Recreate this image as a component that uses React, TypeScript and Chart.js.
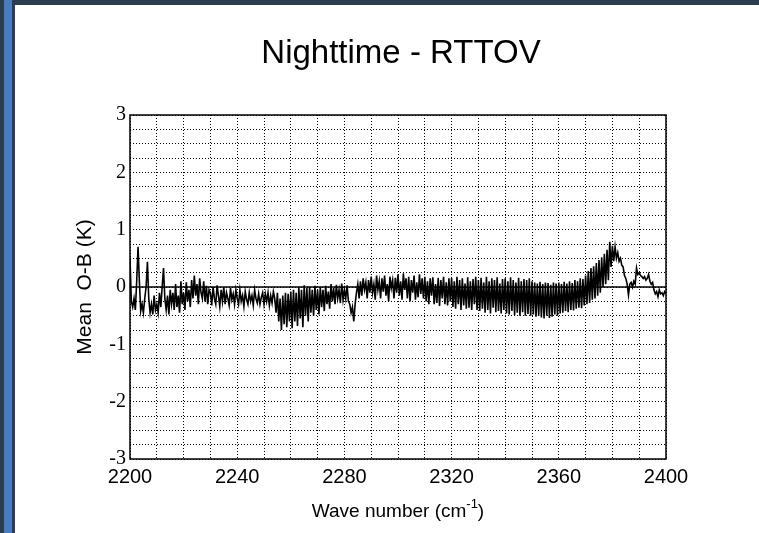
import React, { useEffect, useRef } from "react";
import { Chart, registerables } from "chart.js";

Chart.register(...registerables);

// ---- text ----
const TITLE = "Nighttime - RTTOV";
const X_TITLE_MAIN = "Wave number (cm";
const X_TITLE_SUP = "-1";
const X_TITLE_END = ")";
const Y_TITLE = "Mean  O-B (K)";

// ---- axes ----
const X_MIN = 2200;
const X_MAX = 2400;
const Y_MIN = -3;
const Y_MAX = 3;
const X_TICK_LABELS = [2200, 2240, 2280, 2320, 2360, 2400];
const Y_TICK_LABELS = [-3, -2, -1, 0, 1, 2, 3];

// ---- data: channel grid (cm^-1) ----
const WAVE_START = 2200;
const WAVE_STEP = 0.5;

// Mean O-B (K), 2200.0 - 2249.5
const OMB_2200 = [
  0.5, -0.25, -0.35, -0.2, -0.4, 0.1, 0.7, 0.1, -0.42, -0.3, -0.45, -0.2, 0.0, 0.44, -0.2, -0.45, -0.3, -0.48, -0.15, -0.4,
  -0.3, -0.45, -0.1, -0.35, 0.0, 0.33, -0.2, -0.4, -0.15, -0.48, -0.05, -0.3, -0.1, -0.4, 0.05, -0.35, -0.15, -0.45, 0.1, -0.3,
  -0.1, -0.4, 0.08, -0.25, -0.05, -0.35, 0.12, -0.2, 0.2, -0.15, 0.05, -0.3, 0.15, -0.1, -0.2, 0.1, -0.25, 0.02, -0.3, -0.05,
  -0.1, -0.32, 0.0, -0.2, -0.3, 0.03, -0.15, -0.34, -0.05, -0.25, 0.0, -0.3, -0.1, -0.2, -0.32, -0.02, -0.22, -0.12, -0.3, -0.05,
  -0.2, -0.3, -0.05, -0.25, -0.15, -0.34, -0.08, -0.22, -0.3, -0.1, -0.25, -0.15, -0.32, -0.05, -0.2, -0.28, -0.12, -0.3, -0.18, -0.1,
];
// 2250.0 - 2299.5
const OMB_2250 = [
  -0.3, -0.12, -0.25, -0.1, -0.32, -0.15, -0.28, -0.08, -0.2, -0.45, -0.1, -0.6, -0.2, -0.75, -0.15, -0.65, -0.1, -0.7, -0.12, -0.6,
  -0.08, -0.72, -0.05, -0.6, -0.1, -0.68, 0.0, -0.55, -0.05, -0.7, 0.03, -0.5, -0.02, -0.6, 0.0, -0.45, -0.05, -0.5, 0.02, -0.4,
  -0.05, -0.48, 0.0, -0.35, -0.05, -0.42, 0.02, -0.3, -0.08, -0.38, 0.05, -0.25, -0.02, -0.3, 0.04, -0.2, -0.05, -0.28, 0.06, -0.22,
  -0.05, -0.2, 0.03, -0.25, -0.3, -0.45, -0.35, -0.6, -0.3, -0.1, 0.05, -0.2, 0.1, -0.15, 0.15, -0.05, 0.08, -0.2, 0.12, -0.1,
  0.18, -0.1, 0.05, -0.22, 0.2, -0.05, 0.1, -0.2, 0.15, -0.08, 0.2, -0.15, 0.05, -0.25, 0.18, -0.02, 0.12, -0.2, 0.16, -0.1,
];
// 2300.0 - 2349.5
const OMB_2300 = [
  0.22, -0.15, 0.1, -0.22, 0.24, -0.05, 0.15, -0.2, 0.18, -0.25, 0.12, -0.1, 0.2, -0.22, 0.08, -0.18, 0.22, -0.12, 0.15, -0.2,
  0.18, -0.25, 0.1, -0.3, 0.15, -0.15, 0.17, -0.3, 0.05, -0.28, 0.16, -0.33, 0.12, -0.2, 0.18, -0.3, 0.08, -0.32, 0.15, -0.25,
  0.16, -0.35, 0.1, -0.38, 0.18, -0.3, 0.12, -0.4, 0.15, -0.32, 0.06, -0.38, 0.17, -0.36, 0.1, -0.4, 0.14, -0.3, 0.18, -0.4,
  0.12, -0.42, 0.16, -0.38, 0.08, -0.45, 0.18, -0.4, 0.1, -0.46, 0.15, -0.36, 0.12, -0.44, 0.17, -0.42, 0.06, -0.46, 0.14, -0.4,
  0.15, -0.46, 0.1, -0.48, 0.17, -0.42, 0.12, -0.49, 0.08, -0.45, 0.16, -0.5, 0.1, -0.44, 0.14, -0.5, 0.12, -0.47, 0.15, -0.5,
];
// 2350.0 - 2400.0
const OMB_2350 = [
  0.1, -0.48, 0.08, -0.52, 0.06, -0.5, 0.09, -0.53, 0.05, -0.55, 0.08, -0.5, 0.07, -0.54, 0.04, -0.52, 0.08, -0.48, 0.06, -0.5,
  0.08, -0.46, 0.05, -0.45, 0.09, -0.42, 0.06, -0.44, 0.1, -0.4, 0.07, -0.41, 0.12, -0.38, 0.1, -0.36, 0.15, -0.37, 0.14, -0.32,
  0.2, -0.3, 0.28, -0.28, 0.33, -0.22, 0.36, -0.2, 0.42, -0.15, 0.47, -0.1, 0.52, 0.0, 0.58, 0.05, 0.65, 0.12, 0.79, 0.35,
  0.72, 0.45, 0.7, 0.5, 0.6, 0.45, 0.5, 0.38, 0.35, 0.2, 0.15, 0.05, -0.14, 0.05, 0.08, 0.0, 0.1, 0.05, 0.33, 0.22,
  0.25, 0.2, 0.18, 0.15, 0.18, 0.12, 0.15, 0.22, 0.1, 0.05, 0.08, -0.05, -0.12, -0.08, -0.17, -0.05, -0.12, -0.1, -0.15, -0.08,
  -0.12,
];

const ZERO_LINE = [0, 0];

const SANS = '"Liberation Sans", Arial, Helvetica, sans-serif';
const SERIF = '"Liberation Serif", "Times New Roman", serif';

export default function App() {
  const canvasRef = useRef<HTMLCanvasElement | null>(null);

  useEffect(() => {
    document.body.style.margin = "0";
    const canvas = canvasRef.current;
    if (!canvas) return;

    const values = [...OMB_2200, ...OMB_2250, ...OMB_2300, ...OMB_2350];
    const points = values.map((y, i) => ({ x: WAVE_START + i * WAVE_STEP, y }));
    const zero = [
      { x: X_MIN, y: ZERO_LINE[0] },
      { x: X_MAX, y: ZERO_LINE[1] },
    ];

    const decor = {
      id: "decor",
      afterDraw(chart: any) {
        const ctx = chart.ctx as CanvasRenderingContext2D;
        const a = chart.chartArea;
        const cx = (a.left + a.right) / 2;
        ctx.save();
        // frame
        ctx.setLineDash([]);
        ctx.strokeStyle = "#000";
        ctx.lineWidth = 1.5;
        ctx.strokeRect(a.left, a.top, a.right - a.left, a.bottom - a.top);
        // title
        ctx.fillStyle = "#000";
        ctx.textAlign = "center";
        ctx.textBaseline = "middle";
        ctx.font = `33px ${SANS}`;
        ctx.fillText(TITLE, cx + 3, 54);
        // x-axis title with superscript
        ctx.textAlign = "left";
        ctx.textBaseline = "alphabetic";
        const mainFont = `19px ${SANS}`;
        const supFont = `13px ${SANS}`;
        ctx.font = mainFont;
        const w1 = ctx.measureText(X_TITLE_MAIN).width;
        const w3 = ctx.measureText(X_TITLE_END).width;
        ctx.font = supFont;
        const w2 = ctx.measureText(X_TITLE_SUP).width;
        let x = cx - (w1 + w2 + w3) / 2;
        const base = 517;
        ctx.font = mainFont;
        ctx.fillText(X_TITLE_MAIN, x, base);
        x += w1;
        ctx.font = supFont;
        ctx.fillText(X_TITLE_SUP, x, base - 9);
        x += w2;
        ctx.font = mainFont;
        ctx.fillText(X_TITLE_END, x, base);
        ctx.restore();
      },
    };

    const chart = new Chart(canvas, {
      type: "scatter",
      data: {
        datasets: [
          {
            data: points,
            showLine: true,
            borderColor: "#000",
            borderWidth: 1.6,
            pointRadius: 0,
            tension: 0,
          },
          {
            data: zero,
            showLine: true,
            borderColor: "#000",
            borderWidth: 1.5,
            pointRadius: 0,
          },
        ],
      },
      options: {
        animation: false,
        responsive: false,
        devicePixelRatio: 1,
        layout: { padding: { top: 115, right: 93, left: 0, bottom: 0 } },
        plugins: { legend: { display: false }, tooltip: { enabled: false }, title: { display: false } },
        scales: {
          x: {
            type: "linear",
            min: X_MIN,
            max: X_MAX,
            afterFit: (s: any) => {
              s.height = 74;
            },
            ticks: {
              stepSize: 10,
              autoSkip: false,
              maxRotation: 0,
              padding: 6,
              color: "#000",
              font: { family: SANS, size: 20 },
              callback: (v: any) => (X_TICK_LABELS.includes(Number(v)) ? String(v) : ""),
            },
            grid: { color: "#000", lineWidth: 1, drawTicks: false },
            border: { display: false, dash: [1, 2] },
          },
          y: {
            type: "linear",
            min: Y_MIN,
            max: Y_MAX,
            afterFit: (s: any) => {
              s.width = 130;
            },
            ticks: {
              stepSize: 0.25,
              autoSkip: false,
              padding: 4,
              color: "#000",
              font: { family: SERIF, size: 20 },
              callback: (v: any) => (Y_TICK_LABELS.includes(Number(v)) ? String(v) : ""),
            },
            grid: { color: "#000", lineWidth: 1, drawTicks: false },
            border: { display: false, dash: [1, 2] },
            title: {
              display: true,
              text: Y_TITLE,
              color: "#000",
              font: { family: SANS, size: 21 },
              padding: { top: 73, bottom: 0 },
            },
          },
        },
      },
      plugins: [decor],
    });

    return () => chart.destroy();
  }, []);

  return (
    <div style={{ position: "relative", width: 759, height: 533, background: "#fff", overflow: "hidden" }}>
      <canvas ref={canvasRef} width={759} height={533} style={{ display: "block", width: 759, height: 533 }} />
      <div style={{ position: "absolute", left: 0, top: 0, width: 759, height: 5, background: "#2c3d51" }} />
      <div style={{ position: "absolute", left: 0, top: 0, width: 15, height: 533, background: "#2c3d51" }} />
      <div style={{ position: "absolute", left: 4, top: 0, width: 8, height: 533, background: "#4a7bbd" }} />
    </div>
  );
}
